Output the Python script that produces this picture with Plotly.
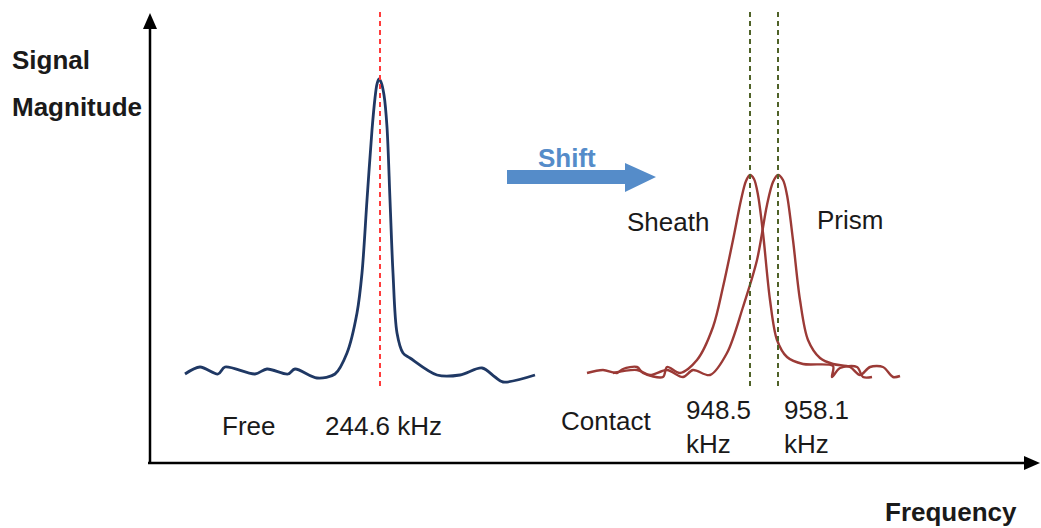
import plotly.graph_objects as go

# Schematic drawn in a pixel-like coordinate frame (x right, y down)
free_x = [185, 200, 218, 225, 255, 267, 288, 295, 317, 335, 347, 357, 362, 367, 372, 375, 377, 379, 381, 384, 387, 390, 393, 397, 403, 410, 437, 460, 482, 495, 503, 535]
free_y = [374, 367, 374, 367, 374, 369, 374, 369, 378, 374, 353, 313, 273, 200, 130, 98, 84, 79, 82, 95, 127, 200, 273, 333, 353, 358, 375, 375, 368, 377, 382, 375]

sheath_x = [587, 603, 617, 623, 637, 643, 663, 667, 680, 697, 713, 723, 733, 741, 746, 750, 754, 758, 763, 770, 777, 787, 803, 833, 832, 840, 857, 863, 872]
sheath_y = [373, 370, 373, 369, 367, 373, 377, 367, 373, 360, 327, 287, 240, 200, 181, 175, 179, 195, 233, 300, 340, 357, 364, 366, 377, 368, 367, 377, 377]

prism_x = [613, 637, 650, 667, 683, 693, 710, 727, 743, 757, 767, 773, 778, 783, 787, 793, 800, 808, 820, 833, 850, 860, 870, 883, 893, 900]
prism_y = [373, 370, 375, 370, 377, 370, 375, 353, 307, 260, 205, 182, 175, 180, 195, 240, 300, 340, 358, 364, 367, 375, 367, 367, 377, 376]

free_peak_x = 380
shifted_peaks_x = [750, 778]
labels_free = ["Free", "244.6 kHz"]
labels_contact = ["Contact", "948.5<br>kHz", "958.1<br>kHz"]

FONT = "Liberation Sans, Arial, sans-serif"

fig = go.Figure()
fig.add_trace(go.Scatter(x=free_x, y=free_y, mode="lines",
                         line=dict(color="#1f3864", width=2.8, shape="spline", smoothing=0.9),
                         hoverinfo="skip"))
fig.add_trace(go.Scatter(x=sheath_x, y=sheath_y, mode="lines",
                         line=dict(color="#9b3a36", width=2.4, shape="spline", smoothing=0.9),
                         hoverinfo="skip"))
fig.add_trace(go.Scatter(x=prism_x, y=prism_y, mode="lines",
                         line=dict(color="#9b3a36", width=2.4, shape="spline", smoothing=0.9),
                         hoverinfo="skip"))

shapes = []
# dashed reference lines
shapes.append(dict(type="line", x0=free_peak_x, x1=free_peak_x, y0=12, y1=388,
                   line=dict(color="#ff3b3b", width=2, dash="5px,4px")))
for px in shifted_peaks_x:
    shapes.append(dict(type="line", x0=px, x1=px, y0=12, y1=388,
                       line=dict(color="#4f6228", width=2, dash="5px,4px")))
# axes
shapes.append(dict(type="line", x0=150, x1=150, y0=463, y1=26, line=dict(color="black", width=2.5)))
shapes.append(dict(type="path", path="M 143 29 L 150 13 L 157 29 Z", fillcolor="black", line=dict(width=0)))
shapes.append(dict(type="line", x0=148, x1=1026, y0=463, y1=463, line=dict(color="black", width=2.5)))
shapes.append(dict(type="path", path="M 1024 456 L 1040 463 L 1024 470 Z", fillcolor="black", line=dict(width=0)))
# shift arrow
shapes.append(dict(type="path",
                   path="M 507 170 L 625 170 L 625 163 L 656 177 L 625 192 L 625 184 L 507 184 Z",
                   fillcolor="#558cc9", line=dict(width=0)))

ann = []
def txt(x, y, t, size=26, bold=False, color="#1a1a1a", xanchor="center"):
    ann.append(dict(x=x, y=y, text=f"<b>{t}</b>" if bold else t, showarrow=False,
                    xanchor=xanchor, yanchor="middle", align="left",
                    font=dict(family=FONT, size=size, color=color)))

txt(10, 60, "Signal", bold=True, xanchor="left")
txt(10, 107, "Magnitude", bold=True, xanchor="left")
txt(1019, 512, "Frequency", bold=True, xanchor="right")
txt(248, 426, labels_free[0])
txt(383, 426, labels_free[1])
txt(606, 421, labels_contact[0])
txt(684, 427, labels_contact[1], xanchor="left")
txt(782, 427, labels_contact[2], xanchor="left")
txt(668, 222, "Sheath")
txt(850, 220, "Prism")
txt(567, 158, "Shift", bold=True, color="#558cc9")

fig.update_layout(
    width=1041, height=528,
    margin=dict(l=0, r=0, t=0, b=0),
    paper_bgcolor="white", plot_bgcolor="white",
    showlegend=False,
    shapes=shapes, annotations=ann,
    xaxis=dict(range=[0, 1041], visible=False, fixedrange=True),
    yaxis=dict(range=[528, 0], visible=False, fixedrange=True),
)
fig.write_html("out.html")
